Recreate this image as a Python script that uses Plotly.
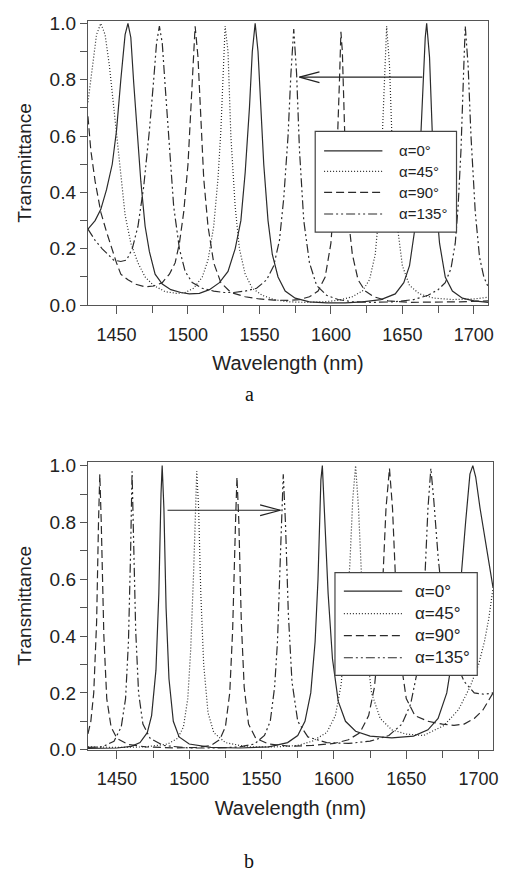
import plotly.graph_objects as go

# ---------------- data ----------------
LABELS = ["α=0°", "α=45°", "α=90°", "α=135°"]
X_TICKS = [1450, 1500, 1550, 1600, 1650, 1700]
Y_TICKS = [0.0, 0.2, 0.4, 0.6, 0.8, 1.0]

# panel a  (wavelength nm, transmittance)
a_alpha0 = [(1430, 0.27), (1435, 0.30), (1439, 0.34), (1443, 0.41), (1447, 0.50), (1450, 0.62),
            (1453, 0.80), (1456, 0.96), (1458, 1.00), (1460, 0.95), (1462, 0.79), (1465, 0.56),
            (1467, 0.44), (1470, 0.28), (1473, 0.19), (1477, 0.11), (1482, 0.075), (1488, 0.055),
            (1495, 0.045), (1501, 0.040), (1508, 0.042), (1515, 0.055), (1522, 0.08), (1528, 0.12),
            (1533, 0.20), (1537, 0.30), (1540, 0.47), (1543, 0.70), (1545, 0.90), (1547, 1.00),
            (1549, 0.90), (1551, 0.70), (1553, 0.50), (1556, 0.30), (1559, 0.18), (1563, 0.10),
            (1568, 0.05), (1575, 0.025), (1585, 0.012), (1597, 0.008), (1610, 0.008), (1622, 0.012),
            (1635, 0.02), (1645, 0.04), (1651, 0.08), (1655, 0.14), (1659, 0.28), (1662, 0.50),
            (1664, 0.72), (1666, 0.95), (1667, 1.00), (1669, 0.88), (1671, 0.60), (1673, 0.40),
            (1676, 0.22), (1680, 0.10), (1685, 0.05), (1692, 0.025), (1700, 0.015), (1710, 0.01)]
a_alpha45 = [(1430, 0.72), (1433, 0.85), (1436, 0.96), (1439, 1.00), (1442, 0.96), (1445, 0.85),
             (1448, 0.70), (1452, 0.50), (1456, 0.32), (1460, 0.22), (1465, 0.15), (1470, 0.10),
             (1476, 0.07), (1484, 0.048), (1492, 0.042), (1498, 0.045), (1504, 0.06), (1510, 0.10),
             (1514, 0.16), (1518, 0.28), (1521, 0.45), (1523, 0.62), (1525, 0.90), (1526, 0.99),
             (1528, 0.90), (1530, 0.60), (1533, 0.35), (1536, 0.20), (1540, 0.11), (1545, 0.06),
             (1552, 0.035), (1560, 0.02), (1570, 0.012), (1582, 0.01), (1595, 0.012), (1605, 0.017),
             (1615, 0.03), (1622, 0.05), (1627, 0.09), (1631, 0.18), (1634, 0.35), (1636, 0.60),
             (1638, 0.90), (1639, 0.99), (1641, 0.85), (1643, 0.55), (1646, 0.30), (1650, 0.14),
             (1655, 0.07), (1662, 0.04), (1672, 0.025), (1685, 0.02), (1700, 0.022), (1710, 0.028)]
a_alpha90 = [(1430, 0.67), (1432, 0.55), (1435, 0.44), (1439, 0.33), (1443, 0.26), (1446, 0.21),
             (1450, 0.15), (1453, 0.11), (1458, 0.09), (1463, 0.075), (1470, 0.065), (1476, 0.068),
             (1482, 0.08), (1487, 0.11), (1491, 0.15), (1494, 0.22), (1497, 0.33), (1500, 0.50),
             (1502, 0.70), (1504, 0.90), (1505, 0.99), (1507, 0.88), (1509, 0.65), (1511, 0.45),
             (1514, 0.28), (1518, 0.15), (1523, 0.08), (1530, 0.045), (1540, 0.03), (1550, 0.022),
             (1560, 0.018), (1570, 0.017), (1578, 0.02), (1585, 0.03), (1591, 0.05), (1596, 0.10),
             (1600, 0.22), (1602, 0.35), (1604, 0.50), (1606, 0.80), (1607, 0.97), (1608, 0.90),
             (1610, 0.55), (1612, 0.32), (1615, 0.18), (1619, 0.09), (1624, 0.05), (1630, 0.03),
             (1640, 0.015), (1655, 0.01), (1670, 0.01), (1690, 0.012), (1710, 0.015)]
a_alpha135 = [(1430, 0.27), (1435, 0.23), (1440, 0.20), (1444, 0.18), (1448, 0.16), (1453, 0.155),
              (1457, 0.16), (1461, 0.20), (1465, 0.28), (1469, 0.42), (1473, 0.62), (1476, 0.80),
              (1478, 0.93), (1480, 0.99), (1482, 0.93), (1484, 0.78), (1487, 0.55), (1490, 0.35),
              (1494, 0.20), (1498, 0.12), (1503, 0.08), (1510, 0.06), (1518, 0.05), (1525, 0.045),
              (1532, 0.045), (1540, 0.05), (1548, 0.06), (1555, 0.09), (1560, 0.14), (1564, 0.23),
              (1567, 0.38), (1570, 0.60), (1572, 0.82), (1574, 0.98), (1576, 0.82), (1578, 0.55),
              (1581, 0.30), (1585, 0.15), (1590, 0.07), (1597, 0.035), (1605, 0.02), (1615, 0.012),
              (1630, 0.01), (1645, 0.012), (1658, 0.02), (1668, 0.035), (1675, 0.055), (1680, 0.08),
              (1684, 0.13), (1687, 0.22), (1689, 0.35), (1691, 0.55), (1693, 0.85), (1694, 0.99),
              (1696, 0.85), (1698, 0.60), (1701, 0.33), (1704, 0.17), (1707, 0.10), (1710, 0.065)]

# panel b
b_alpha0 = [(1430, 0.005), (1450, 0.006), (1460, 0.012), (1466, 0.025), (1471, 0.06), (1474, 0.12),
            (1477, 0.28), (1479, 0.55), (1480.5, 0.90), (1481.3, 1.00), (1482.5, 0.85), (1484, 0.50),
            (1486, 0.25), (1489, 0.10), (1493, 0.045), (1500, 0.02), (1515, 0.008), (1535, 0.006),
            (1555, 0.01), (1568, 0.025), (1575, 0.05), (1580, 0.10), (1584, 0.20), (1587, 0.38),
            (1589, 0.60), (1591, 0.95), (1592, 1.00), (1594, 0.80), (1596, 0.55), (1599, 0.32),
            (1603, 0.17), (1608, 0.10), (1615, 0.065), (1625, 0.048), (1640, 0.042), (1655, 0.048),
            (1665, 0.07), (1672, 0.11), (1678, 0.20), (1683, 0.36), (1687, 0.55), (1691, 0.80),
            (1694, 0.97), (1696, 1.00), (1698, 0.96), (1701, 0.85), (1705, 0.72), (1710, 0.57)]
b_alpha45 = [(1430, 0.01), (1450, 0.008), (1470, 0.01), (1485, 0.02), (1492, 0.04), (1496, 0.08),
             (1499, 0.18), (1501, 0.35), (1503, 0.62), (1504.5, 0.90), (1505.2, 0.98), (1506.5, 0.85),
             (1508, 0.55), (1510, 0.30), (1513, 0.13), (1517, 0.06), (1525, 0.025), (1540, 0.01),
             (1560, 0.01), (1575, 0.015), (1585, 0.03), (1595, 0.06), (1601, 0.12), (1605, 0.23),
             (1608, 0.42), (1611, 0.65), (1613, 0.88), (1615, 1.00), (1617, 0.85), (1619, 0.62),
             (1622, 0.38), (1626, 0.20), (1632, 0.11), (1640, 0.07), (1650, 0.055), (1662, 0.05),
             (1676, 0.085), (1686, 0.14), (1694, 0.22), (1700, 0.30), (1704, 0.38), (1707, 0.46),
             (1710, 0.57)]
b_alpha90 = [(1430, 0.056), (1432, 0.10), (1434, 0.20), (1436, 0.45), (1437.3, 0.80), (1438.2, 0.97),
             (1439.2, 0.80), (1441, 0.40), (1443, 0.18), (1446, 0.08), (1450, 0.04), (1458, 0.018),
             (1470, 0.01), (1490, 0.006), (1505, 0.008), (1515, 0.015), (1521, 0.035), (1525, 0.08),
             (1528, 0.20), (1530, 0.42), (1532, 0.80), (1533, 0.96), (1534.3, 0.80), (1536, 0.45),
             (1538, 0.22), (1541, 0.09), (1546, 0.04), (1555, 0.02), (1570, 0.012), (1585, 0.015),
             (1600, 0.022), (1610, 0.035), (1618, 0.06), (1624, 0.12), (1628, 0.22), (1631, 0.38),
             (1634, 0.62), (1636, 0.85), (1638.4, 0.99), (1640.5, 0.85), (1643, 0.55), (1646, 0.32),
             (1650, 0.18), (1656, 0.12), (1665, 0.10), (1675, 0.09), (1683, 0.086), (1690, 0.09),
             (1697, 0.11), (1703, 0.14), (1710, 0.20)]
b_alpha135 = [(1430, 0.008), (1440, 0.01), (1448, 0.03), (1453, 0.08), (1456, 0.18), (1458, 0.38),
              (1459.5, 0.70), (1460.5, 0.98), (1461.5, 0.75), (1463, 0.42), (1465, 0.20), (1468, 0.09),
              (1473, 0.04), (1482, 0.015), (1500, 0.006), (1520, 0.006), (1535, 0.01), (1545, 0.02),
              (1552, 0.05), (1556, 0.10), (1559, 0.22), (1561, 0.38), (1563, 0.68), (1565, 0.97),
              (1566.5, 0.80), (1568.5, 0.48), (1571, 0.24), (1575, 0.10), (1582, 0.045), (1595, 0.025),
              (1610, 0.022), (1625, 0.03), (1638, 0.05), (1647, 0.09), (1653, 0.16), (1657, 0.26),
              (1660, 0.40), (1663, 0.62), (1665, 0.85), (1667, 0.99), (1669, 0.88), (1672, 0.68),
              (1676, 0.48), (1680, 0.38), (1685, 0.30), (1690, 0.24), (1697, 0.20), (1704, 0.195),
              (1710, 0.20)]

# arrows (tail wavelength, head wavelength, level)
ARROW_A = (1664, 1578, 0.809)
ARROW_B = (1485, 1563, 0.843)

# ---------------- styling ----------------
INK = "#2b2b2b"
AXC = "#555555"
DASHES = ["solid", "1px,2px", "8px,4px", "9px,3px,2px,3px,2px,3px"]
FONT = "Liberation Sans, Arial, sans-serif"
W, H = 505, 884

fig = go.Figure()

panels = [
    ([a_alpha0, a_alpha45, a_alpha90, a_alpha135], "x", "y"),
    ([b_alpha0, b_alpha45, b_alpha90, b_alpha135], "x2", "y2"),
]
for series, xa, ya in panels:
    for lab, data, dash in zip(LABELS, series, DASHES):
        xs = [p[0] for p in data]
        ys = [p[1] for p in data]
        fig.add_trace(go.Scatter(
            x=xs, y=ys, mode="lines", name=lab, xaxis=xa, yaxis=ya, showlegend=False,
            line=dict(color=INK, width=1.2, dash=dash),
        ))

common_x = dict(
    range=[1430, 1710], tickvals=X_TICKS, ticks="outside", ticklen=8, tickwidth=1.2,
    tickcolor=AXC, showline=True, linecolor=AXC, linewidth=1.3, mirror=True,
    showgrid=False, zeroline=False, tickfont=dict(size=18, family=FONT, color="#222"),
    ticklabelstandoff=5,
    minor=dict(ticks="outside", ticklen=7, tickwidth=1.2, tickcolor=AXC, dtick=25, tick0=1425),
    title=dict(text="Wavelength (nm)", font=dict(size=20, family=FONT, color="#222"), standoff=12),
)
common_y = dict(
    tickvals=Y_TICKS, tickformat=".1f", ticks="outside", ticklen=7, tickwidth=1.2,
    tickcolor=AXC, showline=True, linecolor=AXC, linewidth=1.3, mirror=True,
    showgrid=False, zeroline=False, tickfont=dict(size=19, family=FONT, color="#222"),
    minor=dict(ticks="outside", ticklen=7, tickwidth=1.2, tickcolor=AXC, dtick=0.1, tick0=0),
    title=dict(text="Transmittance", font=dict(size=19, family=FONT, color="#222"), standoff=12),
)

fig.update_layout(
    width=W, height=H, margin=dict(l=0, r=0, t=0, b=0),
    paper_bgcolor="white", plot_bgcolor="white", showlegend=False,
    xaxis=dict(domain=[89 / W, 494 / W], anchor="y", **common_x),
    yaxis=dict(domain=[1 - 303.7 / H, 1 - 13 / H], range=[0, 1.0094], anchor="x", **common_y),
    xaxis2=dict(domain=[89 / W, 499 / W], anchor="y2", **common_x),
    yaxis2=dict(domain=[1 - 758 / H, 1 - 464 / H], range=[0, 1.0127], anchor="x2", **common_y),
)

# legend boxes drawn per panel: (box l, r, t, b), sample x0, x1, text x, row ys, font size  (pixels)
LEGEND_A = dict(box=(319, 462, 126, 229), sx=(328, 387), tx=402, rows=(146, 167, 188.5, 210.5), fs=15)
LEGEND_B = dict(box=(339, 483, 577, 682), sx=(348, 407), tx=418, rows=(596, 619, 641.5, 664), fs=17)


def px(x):
    return x / W


def py(y):
    return 1 - y / H


for lg in (LEGEND_A, LEGEND_B):
    l, r, t, b = lg["box"]
    fig.add_shape(type="rect", xref="paper", yref="paper", x0=px(l), x1=px(r), y0=py(b), y1=py(t),
                  line=dict(color="#444", width=1.2), fillcolor="white", layer="above")
    for lab, dash, ry in zip(LABELS, DASHES, lg["rows"]):
        fig.add_shape(type="line", xref="paper", yref="paper", x0=px(lg["sx"][0]), x1=px(lg["sx"][1]),
                      y0=py(ry), y1=py(ry), line=dict(color=INK, width=1.2, dash=dash), layer="above")
        fig.add_annotation(text=lab, xref="paper", yref="paper", x=px(lg["tx"]), y=py(ry),
                           xanchor="left", yanchor="middle", showarrow=False,
                           font=dict(size=lg["fs"], family=FONT, color="#222"))

# arrows: shaft + open V head
for (tail, head, lvl), xr, yr in [(ARROW_A, "x", "y"), (ARROW_B, "x2", "y2")]:
    sgn = 1 if tail > head else -1
    fig.add_shape(type="line", xref=xr, yref=yr, x0=tail, x1=head, y0=lvl, y1=lvl,
                  line=dict(color="#222", width=1.2))
    for dy in (0.019, -0.019):
        fig.add_shape(type="line", xref=xr, yref=yr, x0=head, y0=lvl,
                      x1=head + sgn * 14, y1=lvl + dy, line=dict(color="#222", width=1.2))

# panel letters
for txt, ypx in [("a", 394), ("b", 872)]:
    fig.add_annotation(text=txt, xref="paper", yref="paper", x=252 / W, y=1 - ypx / H,
                       showarrow=False, xanchor="center", yanchor="middle",
                       font=dict(size=20, family="Liberation Serif, Times New Roman, serif", color="#111"))

fig.write_html("out.html")
